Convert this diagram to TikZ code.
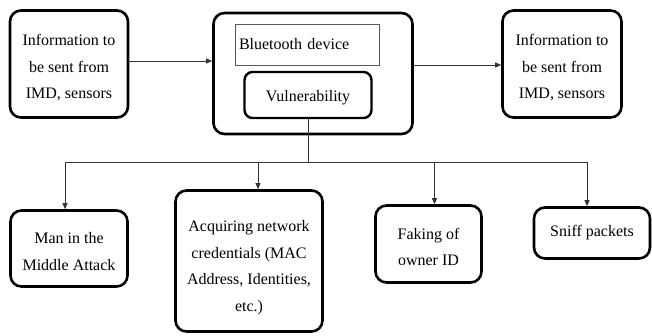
\documentclass[tikz,border=0pt]{standalone}
\usepackage{fontspec}
\setmainfont{Liberation Serif}
\usetikzlibrary{arrows.meta}
\newcommand{\txlines}[2][-4pt]{\raisebox{#1}[\height][\depth]{\begin{tabular}{@{}c@{}}#2\end{tabular}}}
\begin{document}
\begin{tikzpicture}[x=1pt,y=-1pt,
  box/.style={draw=black,line width=2.6pt,rounded corners=11pt,align=center,
    font=\fontsize{16}{26.5}\selectfont,inner sep=0pt},
  arr/.style={-{Triangle[length=6pt,width=5pt]},line width=0.8pt,draw=black!80},
  ln/.style={line width=0.8pt,draw=black!80}]
\useasboundingbox (0,0) rectangle (652,335);
\node[box,minimum width=118pt,minimum height=107pt] (left) at (69,64)
  {\txlines[-3pt]{Information to\\be sent from\\IMD, sensors}};
\node[box,minimum width=199pt,minimum height=121pt] (big) at (313,73.5) {};
\node[draw=black!65,line width=0.8pt,minimum width=144pt,minimum height=41pt,
  text width=136pt,align=left,inner xsep=4pt,inner ysep=0pt,
  font=\fontsize{16}{20}\selectfont] (bt) at (307,44.5) {Bluetooth device};
\node[box,line width=2.4pt,rounded corners=8pt,minimum width=127pt,minimum height=46pt] (vul) at (308,95) {\txlines[-1.5pt]{Vulnerability}};
\node[box,minimum width=119pt,minimum height=107pt] (right) at (562,64)
  {\txlines[-3pt]{Information to\\be sent from\\IMD, sensors}};
\node[box,minimum width=117pt,minimum height=76pt] (mitm) at (69,248.5)
  {\txlines[-3pt]{Man in the\\Middle Attack}};
\node[box,minimum width=147pt,minimum height=141pt] (acq) at (249,261)
  {\txlines[-5pt]{Acquiring network\\credentials (MAC\\Address, Identities,\\etc.)}};
\node[box,minimum width=106pt,minimum height=77pt] (fake) at (428.5,244)
  {\txlines[-3pt]{Faking of\\owner ID}};
\node[box,minimum width=116pt,minimum height=51pt] (sniff) at (592,233)
  {Sniff packets};
\coordinate (bus) at (0,162);
\draw[arr] (left.east |- 0,61) -- (big.west |- 0,61);
\draw[arr] (big.east |- 0,65) -- (right.west |- 0,65);
\draw[ln] (vul.south) -- (vul.south |- bus);
\draw[ln] ([xshift=-4pt]mitm.north |- bus) -- ([xshift=-5pt]sniff.north |- bus);
\draw[arr] ([xshift=-4pt]mitm.north |- bus) -- ([xshift=-4pt]mitm.north);
\draw[arr] ([xshift=9pt]acq.north |- bus) -- ([xshift=9pt]acq.north);
\draw[arr] ([xshift=6pt]fake.north |- bus) -- ([xshift=6pt]fake.north);
\draw[arr] ([xshift=-5pt]sniff.north |- bus) -- ([xshift=-5pt]sniff.north);
\end{tikzpicture}
\end{document}
